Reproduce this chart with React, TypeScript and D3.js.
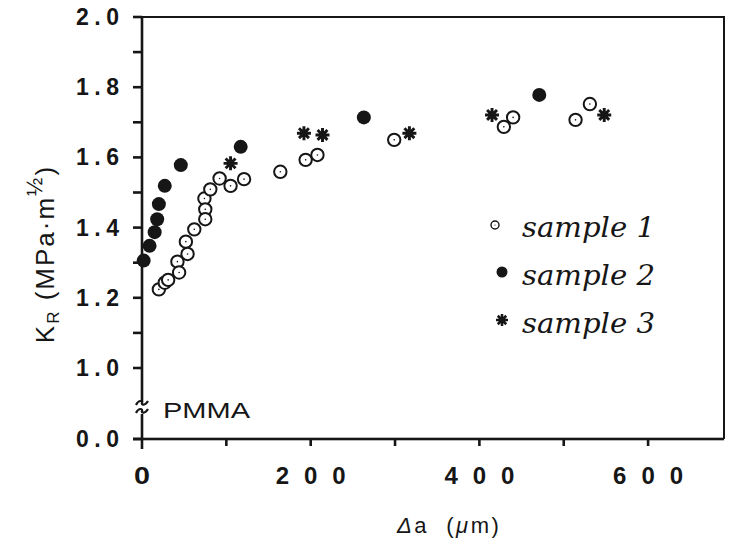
import React, { useRef, useEffect } from "react";
import * as d3 from "d3";

// sample 1 - open circles
const s1x = [20, 27, 31, 42, 44, 52, 54, 62, 74, 75, 75, 81, 92, 105, 121, 164, 194, 208, 299, 429, 440, 514, 531];
const s1y = [1.224, 1.243, 1.251, 1.303, 1.272, 1.36, 1.325, 1.395, 1.483, 1.452, 1.424, 1.509, 1.54, 1.519, 1.538, 1.559, 1.593, 1.607, 1.65, 1.687, 1.714, 1.707, 1.752];
// sample 2 - filled circles
const s2x = [2, 9, 15, 18, 20, 27, 46, 117, 263, 471];
const s2y = [1.306, 1.348, 1.387, 1.424, 1.467, 1.519, 1.578, 1.63, 1.714, 1.778];
// sample 3 - asterisks
const s3x = [105, 192, 214, 317, 415, 548];
const s3y = [1.583, 1.669, 1.664, 1.669, 1.721, 1.721];

const yMajor = [0, 1.0, 1.2, 1.4, 1.6, 1.8, 2.0];
const yMinor = [1.1, 1.3, 1.5, 1.7, 1.9];
const xMajor = [0, 200, 400, 600];
const xMinor = [100, 300, 500];
const legendLabels = ["sample 1", "sample 2", "sample 3"];

const ink = "#161616";
const sans = "'Liberation Sans', Arial, sans-serif";

const asterisk = (g, cx, cy, r) => {
  const a = g.append("g").attr("transform", `translate(${cx},${cy})`);
  const d = [0, 45, 90, 135].map(deg => {
    const t = (deg * Math.PI) / 180;
    return `M${-r * Math.cos(t)},${-r * Math.sin(t)}L${r * Math.cos(t)},${r * Math.sin(t)}`;
  }).join("");
  a.append("path").attr("d", d).attr("stroke", ink).attr("stroke-width", r * 0.42).attr("fill", "none");
  a.append("circle").attr("r", r * 0.5).attr("fill", ink);
};

const App = () => {
  const svgRef = useRef(null);

  useEffect(() => {
    const svg = d3.select(svgRef.current);
    svg.selectAll("*").remove();

    const x = d3.scaleLinear().domain([0, 690]).range([142, 724]);
    // broken axis: 0..1 squeezed, 1..2 full scale
    const y = d3.scaleLinear().domain([0, 1, 2]).range([439, 368, 17]);
    const x0 = x(0);
    const yb = y(0);
    const lw = 2.6;

    // frame
    svg.append("path")
      .attr("d", `M${x0 - 2},${y(2)} H${x(690)} V${yb}`)
      .attr("fill", "none").attr("stroke", ink).attr("stroke-width", 2);

    const ax = svg.append("g").attr("fill", ink);
    // x axis line and ticks
    ax.append("rect").attr("x", x0 - 9).attr("y", yb - lw / 2).attr("width", x(690) - x0 + 9).attr("height", lw);
    ax.selectAll("rect.xt")
      .data([...xMajor, ...xMinor])
      .join("rect").attr("class", "xt")
      .attr("x", v => x(v) - lw / 2).attr("y", yb)
      .attr("width", lw).attr("height", v => (v === 0 ? 10 : 7));
    // y axis (broken) and ticks
    ax.append("rect").attr("x", x0 - lw / 2).attr("y", y(2) - 1).attr("width", lw).attr("height", 402 - y(2) + 1);
    ax.append("rect").attr("x", x0 - lw / 2).attr("y", 414).attr("width", lw).attr("height", yb - 414);
    ax.selectAll("rect.yt")
      .data([...yMajor, ...yMinor])
      .join("rect").attr("class", "yt")
      .attr("x", x0 - 9).attr("y", v => y(v) - lw / 2)
      .attr("width", 9).attr("height", lw);

    // break marks
    [403, 411].forEach(b => {
      svg.append("path")
        .attr("d", `M${x0 - 6},${b + 2} C${x0 - 3},${b - 4} ${x0 + 1},${b - 2} ${x0},${b} S${x0 + 3},${b + 3} ${x0 + 6},${b - 2}`)
        .attr("fill", "none").attr("stroke", ink).attr("stroke-width", 2.2);
    });

    svg.append("g").selectAll("text")
      .data(xMajor)
      .join("text")
      .attr("x", d => x(d))
      .attr("y", 484)
      .attr("text-anchor", "middle")
      .attr("font-family", sans)
      .attr("font-weight", "bold")
      .attr("font-size", 24)
      .attr("fill", ink)
      .attr("textLength", d => (d === 0 ? 16 : 70))
      .attr("lengthAdjust", d => (d === 0 ? "spacingAndGlyphs" : "spacing"))
      .text(d => d);

    svg.append("g").selectAll("text")
      .data(yMajor)
      .join("text")
      .attr("x", 76)
      .attr("y", d => y(d) + 8)
      .attr("font-family", sans)
      .attr("font-weight", "bold")
      .attr("font-size", 23)
      .attr("fill", ink)
      .attr("textLength", 43)
      .attr("lengthAdjust", "spacing")
      .text(d => d.toFixed(1));

    svg.append("text")
      .attr("x", 163).attr("y", 418)
      .attr("font-family", sans).attr("font-size", 22).attr("fill", ink)
      .attr("textLength", 87).attr("lengthAdjust", "spacingAndGlyphs")
      .text("PMMA");

    // axis titles
    const yt = svg.append("text")
      .attr("transform", "translate(54,254) rotate(-90)")
      .attr("text-anchor", "middle")
      .attr("font-family", sans).attr("font-size", 26).attr("fill", ink)
      .attr("letter-spacing", 2)
      .style("white-space", "pre");
    yt.append("tspan").text("K");
    yt.append("tspan").attr("font-size", 17).attr("dy", 5).text("R");
    yt.append("tspan").attr("dy", -5).text(" (MPa·m");
    yt.append("tspan").attr("font-size", 22).attr("dy", -12).text("½");
    yt.append("tspan").attr("dy", 12).text(")");

    const xt = svg.append("text")
      .attr("x", 397).attr("y", 533)
      .attr("font-family", sans).attr("font-size", 22).attr("fill", ink)
      .attr("letter-spacing", 2.5)
      .style("white-space", "pre");
    xt.append("tspan").attr("font-style", "italic").text("Δ");
    xt.append("tspan").text("a  (");
    xt.append("tspan").attr("font-style", "italic").text("μ");
    xt.append("tspan").text("m)");

    // data
    const pts = svg.append("g");
    s1x.forEach((v, i) => {
      pts.append("circle").attr("cx", x(v)).attr("cy", y(s1y[i])).attr("r", 6.2)
        .attr("fill", "#fff").attr("stroke", ink).attr("stroke-width", 2);
      pts.append("circle").attr("cx", x(v)).attr("cy", y(s1y[i])).attr("r", 0.8).attr("fill", ink);
    });
    s2x.forEach((v, i) => {
      pts.append("circle").attr("cx", x(v)).attr("cy", y(s2y[i])).attr("r", 7).attr("fill", ink);
    });
    s3x.forEach((v, i) => asterisk(pts, x(v), y(s3y[i]), 7));

    // legend
    const lg = svg.append("g");
    const baselines = [237, 285, 333];
    legendLabels.forEach((l, i) => {
      lg.append("text")
        .attr("x", 522).attr("y", baselines[i])
        .attr("font-family", "'DejaVu Serif', serif")
        .attr("font-style", "italic")
        .attr("font-size", 28)
        .attr("fill", ink)
        .attr("textLength", 133).attr("lengthAdjust", "spacingAndGlyphs")
        .text(l);
    });
    lg.append("circle").attr("cx", 495).attr("cy", 225).attr("r", 4)
      .attr("fill", "#fff").attr("stroke", ink).attr("stroke-width", 1.4);
    lg.append("circle").attr("cx", 495).attr("cy", 225).attr("r", 0.6).attr("fill", ink);
    lg.append("circle").attr("cx", 502).attr("cy", 272).attr("r", 5.5).attr("fill", ink);
    asterisk(lg, 502, 320, 6);
  }, []);

  return (
    <svg
      ref={svgRef}
      width={729}
      height={542}
      style={{ position: "absolute", left: 0, top: 0, background: "#fff" }}
    />
  );
};

export default App;
